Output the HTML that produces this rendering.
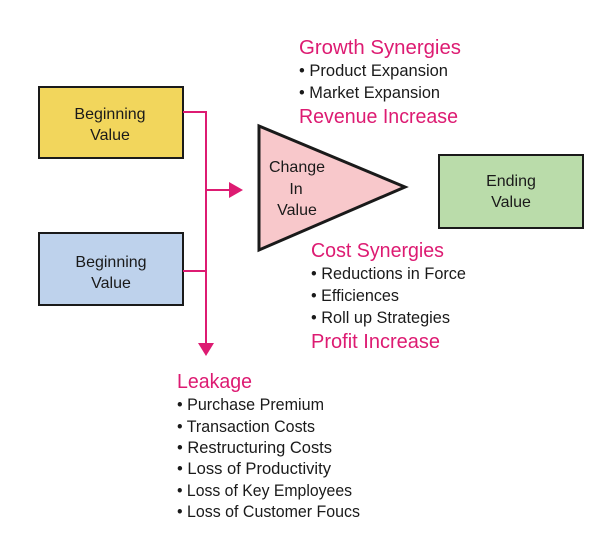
<!DOCTYPE html>
<html><head><meta charset="utf-8"><style>
html,body{margin:0;padding:0;background:#fff;}
svg{display:block;font-family:"Liberation Sans",sans-serif;}
</style></head><body>
<svg width="614" height="550" viewBox="0 0 614 550" xmlns="http://www.w3.org/2000/svg">
<rect width="614" height="550" fill="#fff"/>
<rect x="39" y="87" width="144" height="71" fill="#f2d65c" stroke="#1a1a1a" stroke-width="2"/>
<rect x="39" y="233" width="144" height="72" fill="#bed2ec" stroke="#1a1a1a" stroke-width="2"/>
<rect x="439" y="155" width="144" height="73" fill="#badcaa" stroke="#1a1a1a" stroke-width="2"/>
<polygon points="259,126 405,187 259,250" fill="#f8c8cb" stroke="#1a1a1a" stroke-width="3" stroke-linejoin="miter"/>
<g stroke="#dd1b72" stroke-width="2" fill="none">
<path d="M183 112 H206 V345"/>
<path d="M183 271 H206"/>
<path d="M206 190 H230"/>
</g>
<polygon points="229,182 243,190 229,198" fill="#dd1b72"/>
<polygon points="198,343 214,343 206,356" fill="#dd1b72"/>
<g font-size="16" fill="#1a1a1a" text-anchor="middle">
<text x="110" y="119">Beginning</text><text x="110" y="140">Value</text>
<text x="111" y="267">Beginning</text><text x="111" y="288">Value</text>
<text x="297" y="172">Change</text><text x="296" y="194">In</text><text x="297" y="215">Value</text>
<text x="511" y="186">Ending</text><text x="511" y="207">Value</text>
</g>
<g font-size="20.5" fill="#dd1b72">
<text x="299" y="54" textLength="162" lengthAdjust="spacingAndGlyphs">Growth Synergies</text>
<text x="299" y="123" textLength="159" lengthAdjust="spacingAndGlyphs">Revenue Increase</text>
<text x="311" y="257" textLength="133" lengthAdjust="spacingAndGlyphs">Cost Synergies</text>
<text x="311" y="348" textLength="129" lengthAdjust="spacingAndGlyphs">Profit Increase</text>
<text x="177" y="388" textLength="75" lengthAdjust="spacingAndGlyphs">Leakage</text>
</g>
<g font-size="16.5" fill="#1a1a1a">
<text x="299" y="76" textLength="149" lengthAdjust="spacingAndGlyphs">• Product Expansion</text>
<text x="299" y="98" textLength="141" lengthAdjust="spacingAndGlyphs">• Market Expansion</text>
<text x="311" y="279" textLength="155" lengthAdjust="spacingAndGlyphs">• Reductions in Force</text>
<text x="311" y="301" textLength="88" lengthAdjust="spacingAndGlyphs">• Efficiences</text>
<text x="311" y="323" textLength="139" lengthAdjust="spacingAndGlyphs">• Roll up Strategies</text>
<text x="177" y="410" textLength="147" lengthAdjust="spacingAndGlyphs">• Purchase Premium</text>
<text x="177" y="432" textLength="138" lengthAdjust="spacingAndGlyphs">• Transaction Costs</text>
<text x="177" y="453" textLength="155" lengthAdjust="spacingAndGlyphs">• Restructuring Costs</text>
<text x="177" y="474" textLength="154" lengthAdjust="spacingAndGlyphs">• Loss of Productivity</text>
<text x="177" y="496" textLength="175" lengthAdjust="spacingAndGlyphs">• Loss of Key Employees</text>
<text x="177" y="517" textLength="183" lengthAdjust="spacingAndGlyphs">• Loss of Customer Foucs</text>
</g>
</svg>
</body></html>
